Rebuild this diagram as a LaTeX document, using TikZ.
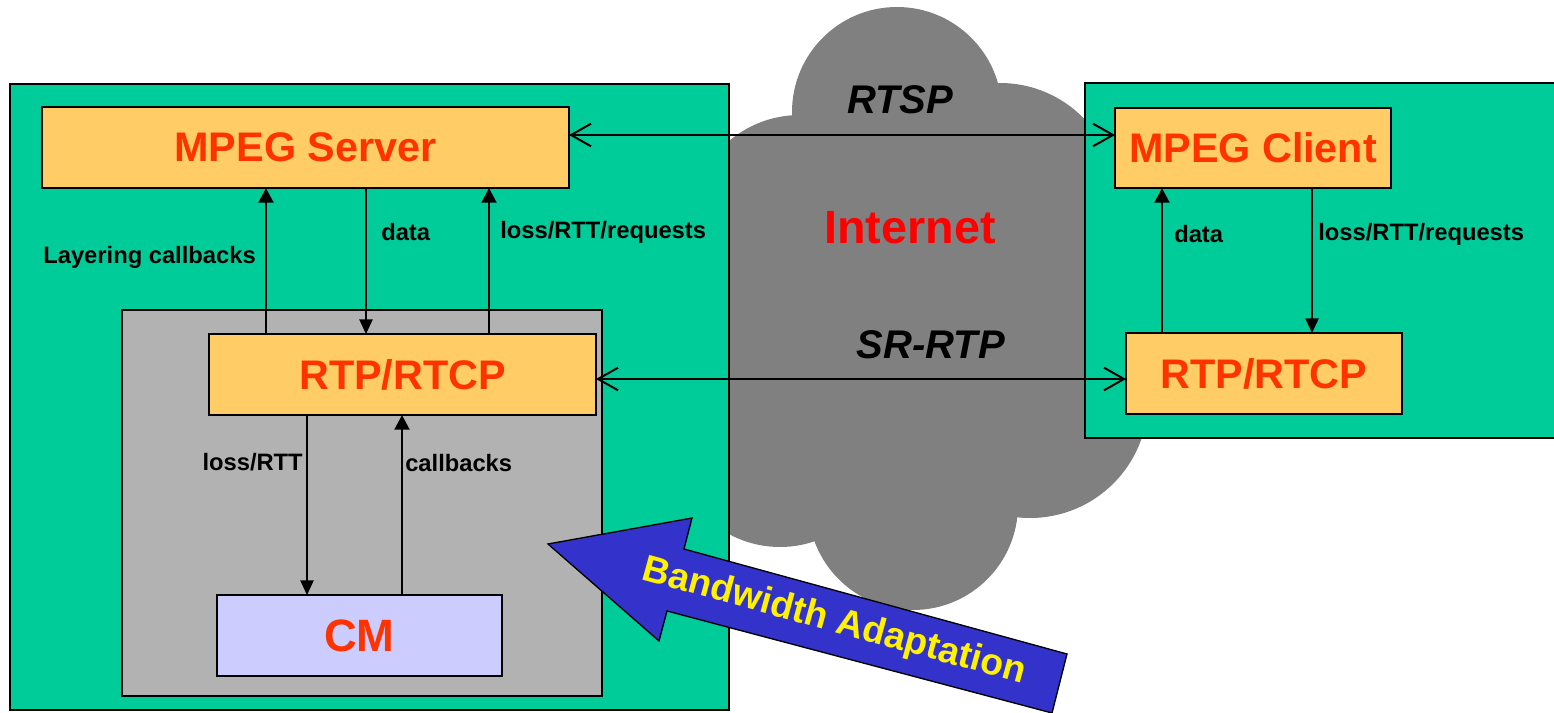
\documentclass[tikz,border=0pt]{standalone}
\usepackage{fontspec}
\setmainfont{Liberation Sans}
\usetikzlibrary{arrows.meta}

\definecolor{hostgreen}{HTML}{00CC99}
\definecolor{boxorange}{HTML}{FFCC66}
\definecolor{txtred}{HTML}{FF3300}
\definecolor{cmblue}{HTML}{CCCCFF}
\definecolor{cmgray}{HTML}{B2B2B2}
\definecolor{cloudgray}{HTML}{808080}
\definecolor{bwblue}{HTML}{3333CC}

\tikzset{
  blk/.style={rectangle, draw=black, line width=1pt, fill=boxorange, text=txtred,
    inner sep=0pt, outer sep=0pt, font=\bfseries\fontsize{31}{37}\selectfont},
  lbl/.style={inner sep=0pt, font=\bfseries\fontsize{17.8}{21}\selectfont},
  thinarr/.style={-{Triangle[length=11pt,width=10pt]}, line width=1.1pt},
  thickarr/.style={-{Triangle[length=11pt,width=11pt]}, line width=2.2pt},
  netarr/.style={{Straight Barb[length=15pt,width=17pt,line width=1.5pt]}-{Straight Barb[length=15pt,width=17pt,line width=1.5pt]}, line width=1.5pt},
}

\begin{document}
\begin{tikzpicture}[x=0.75pt,y=0.75pt,yscale=-1,xscale=1]
    \useasboundingbox (0,0) rectangle (1554,713);

    % Cloud
    \fill[cloudgray] (897,112) circle [x radius=105, y radius=105];
    \fill[cloudgray] (1000,200) circle [x radius=117, y radius=117];
    \fill[cloudgray] (800,225) circle [x radius=110, y radius=110];
    \fill[cloudgray] (780,440) circle [x radius=107, y radius=107];
    \fill[cloudgray] (913,505) circle [x radius=105, y radius=105];
    \fill[cloudgray] (1030,400) circle [x radius=118, y radius=118];
    \fill[cloudgray] (915,320) circle [x radius=200, y radius=200];

    % Hosts
    \draw[line width=1pt, fill=hostgreen] (10,84) rectangle (729,710);
    \draw[line width=1pt, fill=hostgreen] (1085,83) rectangle (1570,438);
    \draw[line width=1pt, fill=cmgray] (122,310) rectangle (602,696);

    % Text Node
    \node[blk, minimum width=395.25pt, minimum height=60.75pt] (srv) at (305.5,147.5) {MPEG Server};
    % Text Node
    \node[blk, minimum width=290.25pt, minimum height=60.75pt] (rtpL) at (402.5,374.5) {RTP/RTCP};
    % Text Node
    \node[blk, fill=cmblue, minimum width=213.75pt, minimum height=60.75pt,
      font=\bfseries\fontsize{34}{40}\selectfont] (cm) at (359.5,635.5) {CM};
    % Text Node
    \node[blk, minimum width=207pt, minimum height=60pt] (clt) at (1253,148) {MPEG Client};
    % Text Node
    \node[blk, minimum width=207pt, minimum height=60.75pt] (rtpR) at (1264,373.5) {RTP/RTCP};

    % Connection
    \draw[thickarr] (266,0 |- rtpL.north) -- (266,0 |- srv.south);
    \draw[thinarr] (366,0 |- srv.south) -- (366,0 |- rtpL.north);
    \draw[thickarr] (489,0 |- rtpL.north) -- (489,0 |- srv.south);
    \draw[thinarr] (307,0 |- rtpL.south) -- (307,0 |- cm.north);
    \draw[thickarr] (402,0 |- cm.north) -- (402,0 |- rtpL.south);
    \draw[thickarr] (1162,0 |- rtpR.north) -- (1162,0 |- clt.south);
    \draw[thinarr] (1312,0 |- clt.south) -- (1312,0 |- rtpR.north);
    % Connection
    \draw[netarr] (srv.east |- 0,135) -- (clt.west |- 0,135);
    \draw[netarr] (rtpL.east |- 0,379) -- (rtpR.west |- 0,379);

    % Labels
    \node[lbl, anchor=east] (lLayer) at (256,257) {Layering callbacks};
    \node[lbl, anchor=west] (lData) at (381,232) {data};
    \node[lbl, anchor=west] (lReq) at (500,232) {loss/RTT/requests};
    \node[lbl, anchor=east] (lLoss) at (303,462) {loss/RTT};
    \node[lbl, anchor=west] (lCb) at (405,463) {callbacks};
    \node[lbl, anchor=west] (lDataR) at (1174,234) {data};
    \node[lbl, anchor=west] (lReqR) at (1318,234) {loss/RTT/requests};

    % Internet
    \node[inner sep=0pt, font=\bfseries\itshape\fontsize{30}{36}\selectfont] (rtsp) at (900,100) {RTSP};
    \node[inner sep=0pt, font=\bfseries\itshape\fontsize{30}{36}\selectfont] (srrtp) at (931,345) {SR-RTP};
    \node[inner sep=0pt, text=red, font=\bfseries\fontsize{35}{42}\selectfont] (inet) at (910,228) {Internet};

    % Bandwidth arrow
    \draw[line width=1pt, fill=bwblue] (548,544) -- (692,518) -- (684,549) -- (1067,654)
      -- (1052,713) -- (667,611) -- (659,641) -- cycle;
    \node[inner sep=0pt, text=yellow, rotate=-15.3,
      font=\bfseries\fontsize{28}{33}\selectfont] (bw) at (834,622) {Bandwidth Adaptation};

\end{tikzpicture}
\end{document}
